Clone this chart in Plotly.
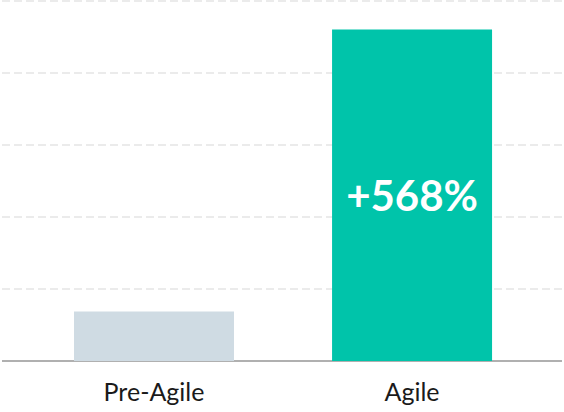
import plotly.graph_objects as go

categories = ['Pre-Agile', 'Agile']
values = [0.69, 4.61]
bar_labels = ['', '+568%']
bar_colors = ['#CFDBE3', '#00C4AA']

fig = go.Figure()
fig.add_trace(go.Bar(
    x=categories,
    y=values,
    text=bar_labels,
    textposition='inside',
    insidetextanchor='middle',
    textangle=0,
    textfont=dict(family='Lato', size=42, color='white', weight='bold'),
    marker=dict(color=bar_colors, line=dict(width=0)),
    width=0.62,
    hoverinfo='skip',
))

fig.update_layout(
    width=564, height=412,
    margin=dict(l=2, r=2, t=0, b=51),
    paper_bgcolor='white',
    plot_bgcolor='white',
    showlegend=False,
    xaxis=dict(
        range=[-0.589, 1.581],
        showgrid=False,
        zeroline=False,
        showline=False,
        ticks='',
        ticklabelstandoff=14,
        tickfont=dict(family='Lato', size=25, color='#1a1a1a'),
    ),
    yaxis=dict(
        range=[0, 5.02],
        dtick=1,
        showticklabels=False,
        showgrid=True,
        gridcolor='#ebebeb',
        gridwidth=2,
        griddash='8px,4px',
        zeroline=True,
        zerolinecolor='#b0b0b0',
        zerolinewidth=2,
        showline=False,
    ),
)

# page has a default 8px body margin; drop it so the chart sits at 0,0
fig.write_html('out.html', config={'displayModeBar': False},
               post_script="document.body.style.margin='0';")
